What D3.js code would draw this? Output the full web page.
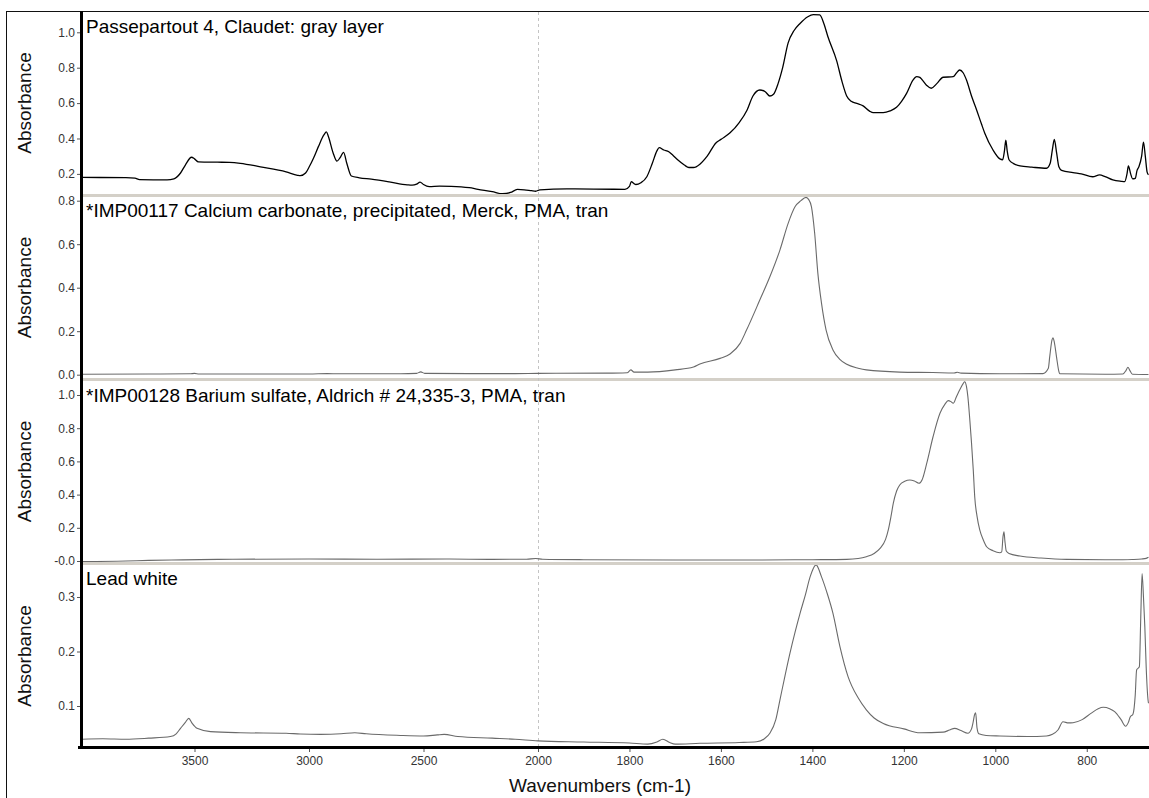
<!DOCTYPE html>
<html><head><meta charset="utf-8">
<script src="https://cdn.jsdelivr.net/npm/d3@7"></script>
<style>
body{margin:0;background:#fff;}
svg text{font-family:Arial,"Liberation Sans",sans-serif;}
</style>
</head><body>
<svg id="chart" width="1149" height="798"></svg>
<script>
// ---------- DATA ----------
const xBreaks = [4000, 2000, 665];
const xTicks = [3500, 3000, 2500, 2000, 1800, 1600, 1400, 1200, 1000, 800];
const xTitle = "Wavenumbers (cm-1)";
const yTitle = "Absorbance";
const panelTitles = [
  "Passepartout 4, Claudet: gray layer",
  "*IMP00117 Calcium carbonate, precipitated, Merck, PMA, tran",
  "*IMP00128 Barium sulfate, Aldrich # 24,335-3, PMA, tran",
  "Lead white"
];
const yTickValues = [
  [0.2, 0.4, 0.6, 0.8, 1.0],
  [0.0, 0.2, 0.4, 0.6, 0.8],
  [0.0, 0.2, 0.4, 0.6, 0.8, 1.0],
  [0.1, 0.2, 0.3]
];
const yTickLabels = [
  ["0.2", "0.4", "0.6", "0.8", "1.0"],
  ["0.0", "0.2", "0.4", "0.6", "0.8"],
  ["-0.0", "0.2", "0.4", "0.6", "0.8", "1.0"],
  ["0.1", "0.2", "0.3"]
];
const yDomains = [
  [0.0864, 1.1147],
  [-0.0152, 0.817],
  [-0.006, 1.0843],
  [0.0248, 0.3587]
];

// Passepartout 4, gray layer
const grayWn = [4000,3800,3760,3740,3620,3590,3561,3540,3513,3500,3483,3400,3347,3300,3212,3100,3050,3038,3015,2999,2980,2959,2935,2924,2915,2895,2878,2865,2849,2835,2815,2780,2728,2650,2571,2550,2530,2515,2500,2475,2430,2379,2300,2262,2200,2155,2120,2090,2060,2029,2010,1996,1937,1878,1810,1800,1796,1790,1786,1775,1762,1750,1740,1735,1725,1714,1705,1694,1680,1670,1660,1646,1630,1611,1600,1580,1560,1543,1530,1515,1503,1493,1485,1475,1465,1453,1440,1427,1410,1398,1384,1375,1366,1347,1335,1325,1315,1303,1289,1275,1267,1245,1230,1216,1205,1194,1180,1172,1165,1161,1150,1140,1128,1114,1092,1085,1078,1070,1063,1052,1042,1030,1023,1005,990,984,980,977,974,970,960,946,920,888,880,875,871,866,861,855,830,812,787,772,760,743,725,717,712,709,704,700,694,690,686,680,676,672,668,665];
const grayAbs = [0.180,0.179,0.176,0.168,0.166,0.172,0.205,0.250,0.294,0.285,0.268,0.266,0.265,0.260,0.240,0.212,0.192,0.190,0.205,0.240,0.290,0.354,0.420,0.437,0.410,0.320,0.272,0.290,0.322,0.260,0.188,0.178,0.170,0.155,0.138,0.136,0.142,0.154,0.140,0.128,0.131,0.130,0.122,0.113,0.100,0.088,0.095,0.112,0.110,0.105,0.102,0.110,0.115,0.114,0.113,0.130,0.156,0.145,0.140,0.150,0.184,0.260,0.330,0.348,0.335,0.325,0.305,0.278,0.250,0.236,0.236,0.255,0.300,0.375,0.395,0.432,0.490,0.560,0.640,0.674,0.664,0.640,0.650,0.710,0.800,0.940,1.010,1.050,1.088,1.100,1.098,1.050,0.975,0.840,0.720,0.640,0.610,0.598,0.584,0.555,0.546,0.546,0.556,0.576,0.610,0.655,0.730,0.750,0.745,0.735,0.700,0.684,0.710,0.746,0.749,0.770,0.787,0.770,0.730,0.640,0.570,0.480,0.430,0.335,0.285,0.280,0.330,0.390,0.330,0.280,0.258,0.245,0.238,0.232,0.260,0.340,0.395,0.320,0.240,0.220,0.207,0.200,0.184,0.194,0.185,0.166,0.158,0.156,0.200,0.245,0.200,0.172,0.175,0.220,0.240,0.300,0.380,0.300,0.210,0.195];

// Calcium carbonate
const caco3Wn = [4000,3700,3520,3500,3480,3000,2920,2870,2600,2530,2512,2495,2300,2100,2000,1850,1805,1797,1790,1760,1700,1660,1646,1602,1580,1558,1544,1515,1493,1471,1453,1438,1425,1414,1408,1402,1395,1388,1380,1370,1355,1340,1326,1300,1282,1209,1137,1090,1083,1075,990,896,884,881,876,874,871,866,861,859,760,721,714,710,706,700,665];
const caco3Abs = [0.002,0.003,0.004,0.006,0.003,0.003,0.005,0.004,0.004,0.006,0.013,0.006,0.005,0.005,0.006,0.007,0.009,0.022,0.012,0.012,0.022,0.035,0.049,0.075,0.095,0.144,0.205,0.343,0.450,0.573,0.696,0.772,0.800,0.815,0.805,0.772,0.650,0.466,0.328,0.205,0.114,0.070,0.049,0.030,0.022,0.012,0.010,0.008,0.011,0.007,0.004,0.005,0.030,0.083,0.160,0.170,0.150,0.080,0.015,0.004,0.002,0.003,0.020,0.034,0.020,0.002,0.001];

// Barium sulfate
const baso4Wn = [4000,3800,3700,3600,3400,3000,2700,2400,2200,2050,2010,1990,1900,1700,1530,1400,1325,1300,1282,1265,1252,1240,1234,1228,1223,1216,1209,1198,1187,1177,1167,1160,1150,1136,1121,1110,1103,1097,1092,1085,1078,1070,1067,1063,1060,1056,1052,1048,1045,1040,1034,1026,1019,1005,990,986,983,981,979,976,970,946,900,844,760,721,700,680,670,665];
const baso4Abs = [-0.004,0.000,0.004,0.006,0.010,0.012,0.011,0.012,0.010,0.011,0.015,0.011,0.008,0.006,0.006,0.008,0.010,0.015,0.026,0.045,0.076,0.130,0.187,0.270,0.348,0.420,0.458,0.480,0.488,0.482,0.468,0.490,0.588,0.750,0.890,0.945,0.966,0.960,0.950,0.990,1.030,1.070,1.080,1.050,0.990,0.860,0.710,0.540,0.387,0.270,0.187,0.125,0.086,0.062,0.050,0.055,0.150,0.176,0.120,0.060,0.045,0.030,0.018,0.010,0.008,0.008,0.009,0.012,0.016,0.022];

// Lead white
const leadWn = [4000,3900,3800,3700,3605,3580,3561,3540,3525,3510,3489,3430,3300,3100,3038,2950,2860,2800,2750,2600,2500,2440,2410,2350,2200,2100,2000,1900,1800,1760,1740,1727,1712,1700,1646,1560,1522,1505,1493,1480,1471,1460,1449,1438,1427,1415,1405,1392,1380,1367,1355,1340,1322,1300,1282,1265,1245,1200,1165,1114,1100,1089,1075,1060,1052,1049,1045,1043,1040,1036,1020,990,930,888,875,863,852,840,830,810,790,775,764,750,739,725,715,709,705,699,694,691,685,682,679,676,673,670,666,665];
const leadAbs = [0.039,0.040,0.039,0.041,0.044,0.049,0.059,0.070,0.0774,0.068,0.059,0.053,0.051,0.050,0.0486,0.048,0.049,0.051,0.049,0.046,0.045,0.047,0.048,0.044,0.041,0.039,0.036,0.034,0.032,0.030,0.034,0.039,0.033,0.030,0.0316,0.033,0.0345,0.040,0.050,0.075,0.111,0.155,0.197,0.235,0.270,0.305,0.337,0.359,0.337,0.305,0.270,0.210,0.154,0.115,0.093,0.078,0.068,0.058,0.051,0.052,0.056,0.059,0.055,0.050,0.058,0.068,0.085,0.0877,0.060,0.049,0.046,0.045,0.044,0.045,0.048,0.056,0.071,0.069,0.0694,0.075,0.087,0.095,0.0976,0.095,0.0896,0.075,0.063,0.070,0.080,0.085,0.120,0.166,0.172,0.260,0.343,0.300,0.245,0.170,0.111,0.105];

const seriesWn = [grayWn, caco3Wn, baso4Wn, leadWn];
const seriesAbs = [grayAbs, caco3Abs, baso4Abs, leadAbs];
const seriesColors = ["#000000", "#6a6a6a", "#6a6a6a", "#6a6a6a"];

// ---------- LAYOUT ----------
const svg = d3.select("#chart");
const plotLeft = 81.5, plotRight = 1149;
const panels = [
  {top: 12, bottom: 194},
  {top: 197, bottom: 378},
  {top: 381, bottom: 562},
  {top: 565, bottom: 747}
];
const x = d3.scaleLinear().domain(xBreaks).range([80, 538, 1148.5]);

// frame
svg.append("line").attr("x1", 6.5).attr("x2", 6.5).attr("y1", 11).attr("y2", 798).attr("stroke", "#111").attr("stroke-width", 1);
svg.append("line").attr("x1", 6).attr("x2", 1149).attr("y1", 11.5).attr("y2", 11.5).attr("stroke", "#111").attr("stroke-width", 1);

// separators
[195.5, 379.5, 563.5].forEach(yy => {
  svg.append("rect").attr("x", plotLeft).attr("y", yy - 1.5).attr("width", plotRight - plotLeft).attr("height", 3).attr("fill", "#d4d0c8");
});

// dashed 2000 line
svg.append("line").attr("x1", x(2000) + 0.5).attr("x2", x(2000) + 0.5).attr("y1", 12).attr("y2", 746)
  .attr("stroke", "#c4c4c4").attr("stroke-width", 1).attr("stroke-dasharray", "3,3");

const defs = svg.append("defs");

panels.forEach((p, i) => {
  const y = d3.scaleLinear().domain(yDomains[i]).range([p.bottom, p.top]);
  defs.append("clipPath").attr("id", "clip" + i)
    .append("rect").attr("x", plotLeft + 1).attr("y", p.top).attr("width", plotRight - plotLeft).attr("height", p.bottom - p.top);
  const data = seriesWn[i].map((w, k) => ({w: w, a: seriesAbs[i][k]}));
  const line = d3.line().x(d => x(d.w)).y(d => y(d.a)).curve(d3.curveMonotoneX);
  svg.append("path").datum(data).attr("d", line)
    .attr("fill", "none").attr("stroke", seriesColors[i])
    .attr("stroke-width", i === 0 ? 1.3 : 1.1)
    .attr("stroke-linejoin", "round")
    .attr("clip-path", "url(#clip" + i + ")");

  // y axis ticks
  const ax = d3.axisLeft(y).tickValues(yTickValues[i])
    .tickFormat((d, k) => yTickLabels[i][k]).tickSize(3).tickPadding(2);
  const g = svg.append("g").attr("transform", "translate(80,0)").call(ax);
  g.select(".domain").remove();
  g.selectAll(".tick line").attr("stroke", "#555");
  g.selectAll(".tick text").attr("fill", "#333").style("font-size", "12px").attr("font-family", "Arial, 'Liberation Sans', sans-serif");

  // panel title
  svg.append("text").attr("x", 86).attr("y", [33, 217, 402, 585][i])
    .attr("fill", "#000").style("font-size", "19px").text(panelTitles[i]);

  // y title
  svg.append("text")
    .attr("transform", `translate(31,${(p.top + p.bottom) / 2}) rotate(-90)`)
    .attr("text-anchor", "middle").attr("fill", "#111").style("font-size", "19px")
    .text(yTitle);
});

// x axis
const xa = d3.axisBottom(x).tickValues(xTicks).tickFormat(d3.format("d")).tickSize(4).tickPadding(4);
const gx = svg.append("g").attr("transform", "translate(0,748)").call(xa);
gx.select(".domain").remove();
gx.selectAll(".tick line").attr("stroke", "#555");
gx.selectAll(".tick text").attr("fill", "#333").style("font-size", "12px").attr("font-family", "Arial, 'Liberation Sans', sans-serif");

// thick axis lines
svg.append("line").attr("x1", 81.5).attr("x2", 81.5).attr("y1", 11).attr("y2", 749).attr("stroke", "#000").attr("stroke-width", 3);
svg.append("line").attr("x1", 78).attr("x2", 1149).attr("y1", 747.5).attr("y2", 747.5).attr("stroke", "#000").attr("stroke-width", 3);

// x title
svg.append("text").attr("x", 600).attr("y", 792).attr("text-anchor", "middle")
  .attr("fill", "#111").style("font-size", "19px").text(xTitle);
</script>
</body></html>
